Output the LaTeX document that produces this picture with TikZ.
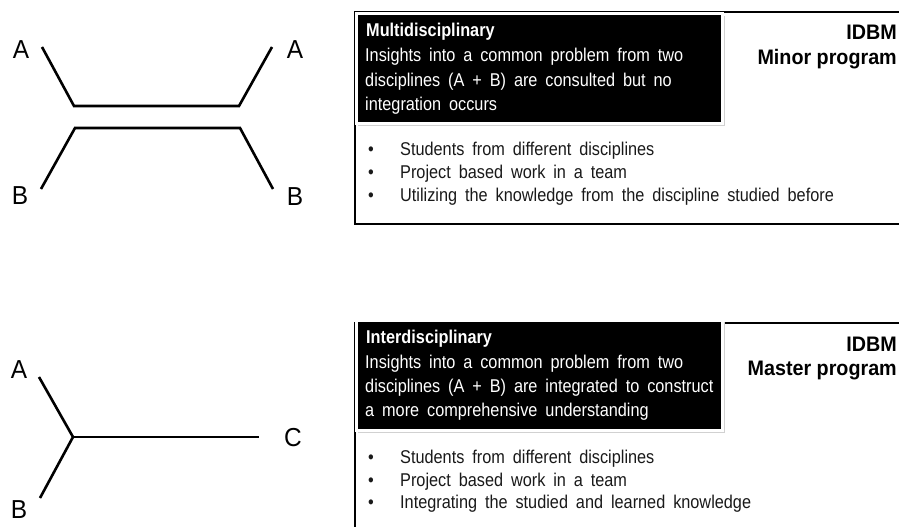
\documentclass[tikz,border=0pt]{standalone}
\usepackage{fontspec}
\setmainfont{Liberation Sans}[FakeStretch=0.94]
\newfontfamily\bodyfont{Liberation Sans}[FakeStretch=0.88, WordSpace=1.75]
\newfontfamily\headfont{Liberation Sans Bold}[FakeStretch=0.88]
\newfontfamily\progfont{Liberation Sans Bold}[FakeStretch=0.94]
\begin{document}
\begin{tikzpicture}[x=1pt, y=-1pt,
  wire/.style={line width=2.6pt, line join=miter},
  letter/.style={font=\fontsize{26}{30}\selectfont, inner sep=0pt},
  frame/.style={line width=2.4pt},
  panel/.style={fill=black, draw=white, line width=3pt},
  panelshadow/.style={fill=black!18},
  head/.style={font=\headfont\fontsize{18.5}{22}\selectfont, text=white, anchor=base west, inner sep=0pt},
  desc/.style={font=\bodyfont\fontsize{18.5}{22}\selectfont, text=white, anchor=base west, inner sep=0pt},
  prog/.style={font=\progfont\fontsize{21}{24}\selectfont, anchor=base east, inner sep=0pt},
  item/.style={font=\bodyfont\fontsize{18.5}{22}\selectfont, text=black!90, anchor=base west, inner sep=0pt}]

\useasboundingbox (0,0) rectangle (899,527);
\clip (0,0) rectangle (899,527);

% ---------- multidisciplinary sketch ----------
\coordinate (a1) at (42,47);
\coordinate (j1) at (74,106);
\coordinate (j2) at (239,106);
\coordinate (a2) at (272,47);
\coordinate (b1) at (41,189);
\coordinate (k1) at (75,128);
\coordinate (k2) at (240,128);
\coordinate (b2) at (273,189);
\draw[wire] (a1) -- (j1) -- (j2) -- (a2);
\draw[wire] (b1) -- (k1) -- (k2) -- (b2);
\node[letter] (la1) at (21,50) {A};
\node[letter] (la2) at (295,50) {A};
\node[letter] (lb1) at (20,196) {B};
\node[letter] (lb2) at (295,197) {B};

% ---------- interdisciplinary sketch ----------
\coordinate (a3) at (39,377);
\coordinate (y3) at (73,437);
\coordinate (c3) at (259,437);
\coordinate (b3) at (40,498);
\draw[wire] (a3) -- (y3) -- (b3);
\draw[wire] (y3) -- (c3);
\node[letter] (la3) at (19,370) {A};
\node[letter] (lb3) at (19,510) {B};
\node[letter] (lc3) at (293,438) {C};

% ---------- Minor program panel ----------
\draw[frame] (355,12) rectangle (910,224);
\fill[panelshadow] (358,16) rectangle (725,126);
\path[panel] (356,14) rectangle (722,123);
\node[head] (h1) at (366,37) {Multidisciplinary};
\node[desc] (d1a) at (365,62) {Insights into a common problem from two};
\node[desc] (d1b) at (365,86) {disciplines (A + B) are consulted but no};
\node[desc] (d1c) at (365,110) {integration occurs};
\node[prog] (p1a) at (897,40) {IDBM};
\node[prog] (p1b) at (897,64) {Minor program};
\node[item] (m1dot) at (368,155) {•};
\node[item] (m1) at (400,155) {Students from different disciplines};
\node[item] (m2dot) at (368,178) {•};
\node[item] (m2) at (400,178) {Project based work in a team};
\node[item] (m3dot) at (368,201) {•};
\node[item] (m3) at (400,201) {Utilizing the knowledge from the discipline studied before};

% ---------- Master program panel ----------
\draw[frame] (355,323) rectangle (910,560);
\fill[panelshadow] (358,322) rectangle (725,433);
\path[panel] (356,320) rectangle (722,430);
\node[head] (h2) at (366,343) {Interdisciplinary};
\node[desc] (d2a) at (365,368) {Insights into a common problem from two};
\node[desc] (d2b) at (365,392) {disciplines (A + B) are integrated to construct};
\node[desc] (d2c) at (365,416) {a more comprehensive understanding};
\node[prog] (p2a) at (897,351) {IDBM};
\node[prog] (p2b) at (897,375) {Master program};
\node[item] (s1dot) at (368,463) {•};
\node[item] (s1) at (400,463) {Students from different disciplines};
\node[item] (s2dot) at (368,486) {•};
\node[item] (s2) at (400,486) {Project based work in a team};
\node[item] (s3dot) at (368,508) {•};
\node[item] (s3) at (400,508) {Integrating the studied and learned knowledge};
\end{tikzpicture}
\end{document}
